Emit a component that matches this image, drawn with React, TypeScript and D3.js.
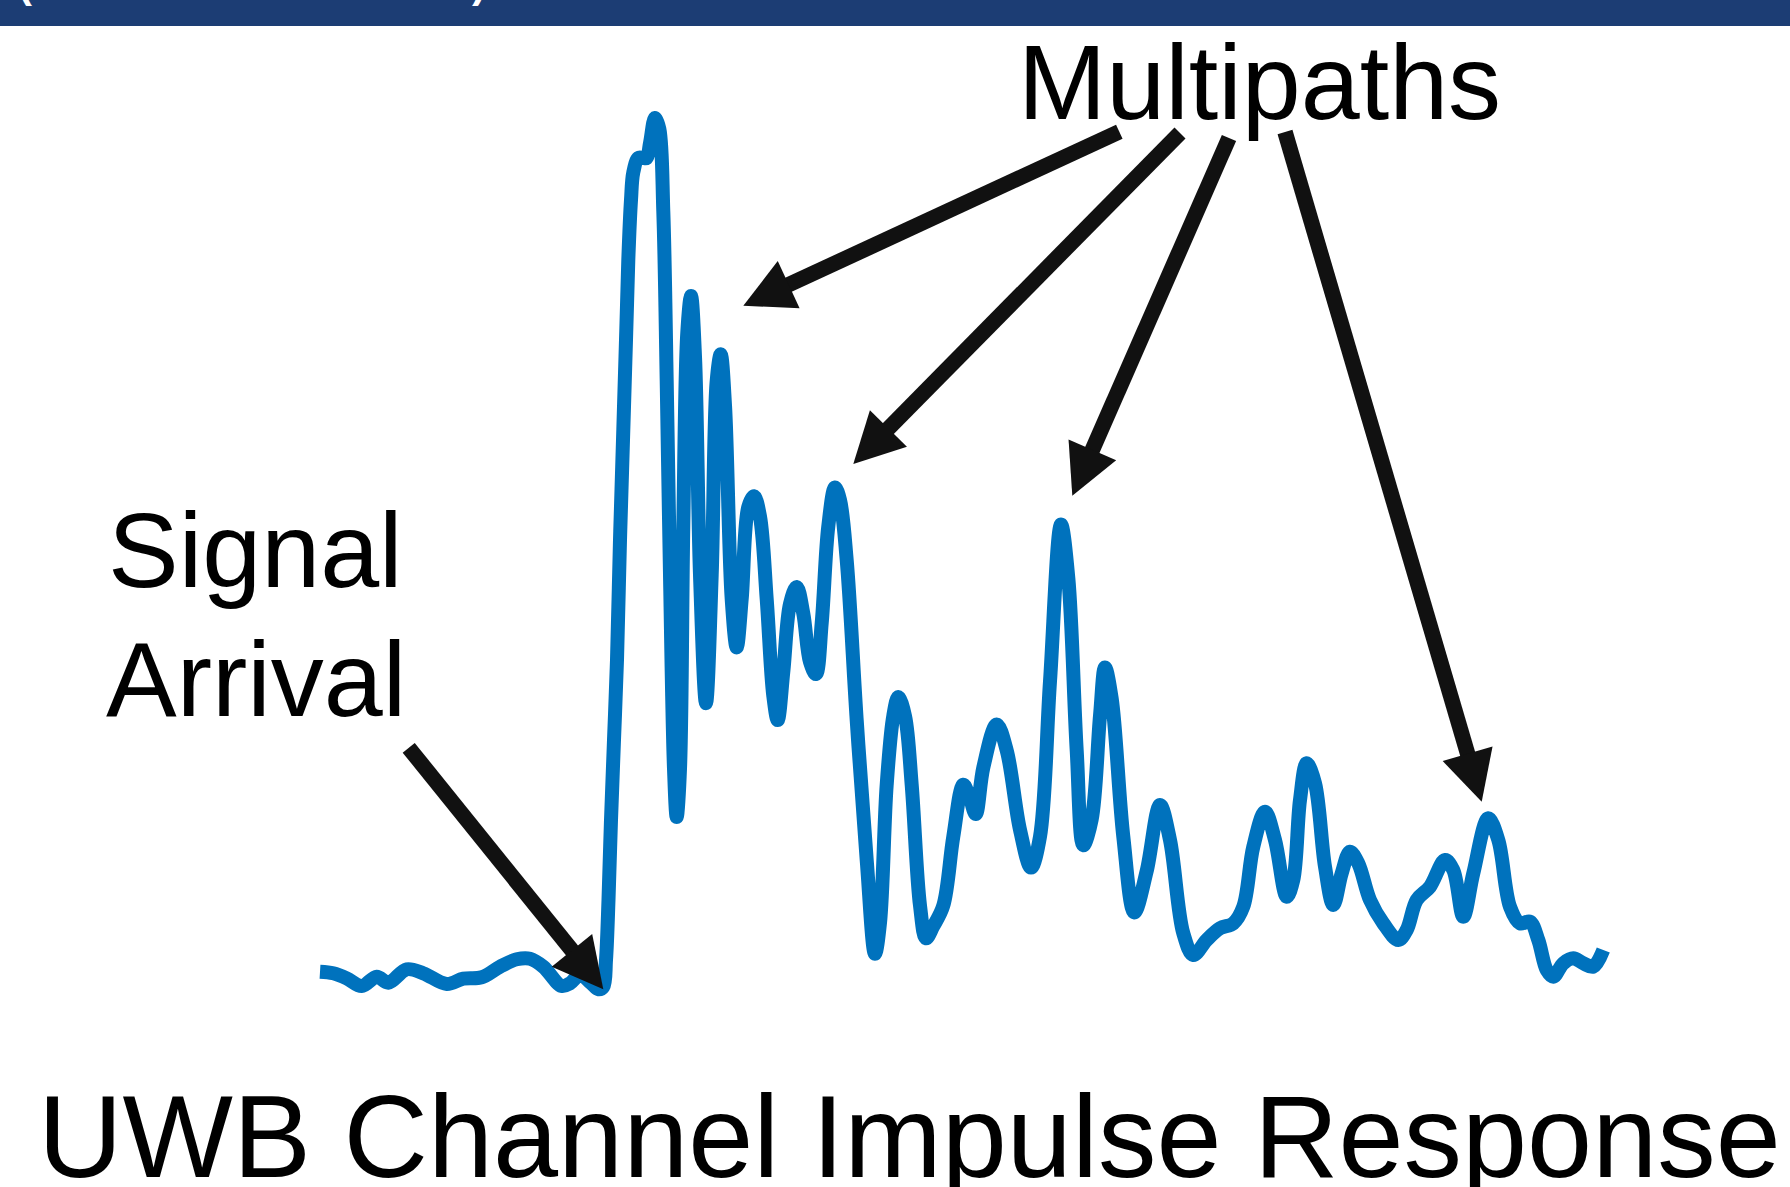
import * as d3 from "d3";
import { useEffect, useRef } from "react";

// time in ns, amplitude in arbitrary units
const noiseFloor: [number, number][] = [
  [0, 1.83], [1.33, 1.67], [2.67, 1.17], [4.17, 0.4], [5.67, 1.33], [6.83, 0.73],
  [8.67, 2.07], [10.33, 1.67], [12.67, 0.6], [14.33, 1.13], [16.17, 1.27], [18, 2.33],
  [19.67, 3.07], [21, 3.13], [22.33, 2.33], [24.17, 0.4], [25, 0.67], [26, 1.5],
  [27.1, 0.7], [27.83, 0.07],
];

const directPath: [number, number][] = [
  [28.33, 0.33], [28.6, 3.0], [28.85, 9.0], [29.1, 17.0], [29.4, 25.0], [29.7, 33.0],
  [30.0, 45.0], [30.33, 56.0], [30.6, 65.0], [30.83, 73.0], [31.1, 79.0], [31.33, 81.76],
  [31.83, 83.2], [32.33, 83.2], [32.67, 83.2], [33.0, 84.67], [33.5, 87.2], [33.93, 86.12],
  [34.33, 77.88], [34.67, 60.92], [35.0, 41.53], [35.4, 22.14], [35.67, 17.3],
];

const earlyEchoes: [number, number][] = [
  [36.0, 22.14], [36.33, 46.37], [36.73, 65.76], [37.1, 69.4], [37.5, 63.34], [38.0, 41.53],
  [38.6, 28.68], [39.17, 41.53], [39.67, 60.92], [40.07, 63.58], [40.5, 58.49], [41.17, 39.1],
  [41.67, 34.26], [42.17, 39.1], [42.83, 48.31], [43.4, 49.38], [44.0, 47.34], [44.67, 39.1],
  [45.33, 29.41], [45.77, 26.99], [46.33, 31.83], [47.0, 38.62], [47.67, 40.31], [48.33, 37.65],
  [49.0, 32.8], [49.6, 31.59], [50.17, 36.68], [50.83, 46.37], [51.5, 50.25], [52.0, 49.0],
  [52.67, 43.0], [53.67, 27.0], [54.67, 13.0], [55.5, 3.62],
];

const midEchoes: [number, number][] = [
  [56.0, 6.72], [56.67, 20.52], [57.33, 27.41], [57.83, 29.31], [58.5, 27.41], [59.17, 20.52],
  [60.0, 8.45], [60.6, 5.17], [61.33, 6.38], [62.33, 8.45], [63.33, 15.34], [64.33, 20.52],
  [65.0, 19.14], [65.57, 17.59], [66.33, 22.24], [67.67, 26.55], [68.67, 23.97], [70.0, 16.03],
  [71.1, 12.24], [72.0, 15.34], [73.0, 30.86], [74.1, 46.55], [74.83, 41.21], [75.67, 23.97],
  [76.33, 14.48], [77.17, 17.07], [78.0, 27.41], [78.5, 32.24], [79.17, 29.14], [80.33, 15.34],
  [81.43, 7.76], [82.67, 11.9], [84.0, 18.5], [85.0, 15.0], [86.33, 5.67], [87.33, 3.5],
];

const lateEchoes: [number, number][] = [
  [88.67, 5.0], [90.0, 6.17], [91.33, 6.67], [92.33, 8.33], [93.33, 14.33], [94.5, 17.83],
  [95.5, 15.0], [96.67, 9.33], [97.33, 11.0], [98.0, 19.0], [98.67, 22.67], [99.5, 20.67],
  [100.5, 12.33], [101.33, 8.5], [102.17, 11.67], [103.0, 13.83], [103.83, 12.67], [105.0, 9.0],
  [106.33, 6.67], [107.83, 5.0], [108.67, 6.0], [109.67, 9.0], [111.0, 10.33], [112.5, 13.0],
  [113.33, 12.0], [114.33, 7.33], [115.33, 11.67], [116.83, 17.17], [117.83, 15.0], [119.0, 8.33],
  [120.0, 6.67], [121.0, 6.83], [121.83, 5.0], [122.67, 2.0], [123.33, 1.33], [124.33, 2.67],
  [125.33, 3.17], [126.33, 2.67], [127.33, 2.33], [128.33, 4.0],
];

// annotation arrows: [tailT, tailAmp, tipT, tipAmp]
const arrivalArrow = [8.87, 24.22, 28.33, 0.07];
const multipathArrows = [
  [79.93, 85.83, 42.33, 68.43],
  [86.0, 85.7, 53.33, 52.6],
  [90.9, 85.2, 75.23, 49.43],
  [96.5, 85.8, 116.17, 18.83],
];

const labels = {
  multipaths: "Multipaths",
  signal: ["Signal", "Arrival"],
  title: "UWB Channel Impulse Response",
};

const W = 1790;
const H = 1187;
const FONT = "'Liberation Sans', Arial, Helvetica, sans-serif";

export default function App() {
  const ref = useRef<SVGSVGElement | null>(null);

  useEffect(() => {
    const svg = d3.select(ref.current);
    svg.selectAll("*").remove();

    const x = d3.scaleLinear().domain([0, 128.33]).range([320, 1603.3]);
    const y = d3.scaleLinear().domain([0, 87.2]).range([990, 118]);

    // slide header strip
    svg.append("rect").attr("x", 0).attr("y", 0).attr("width", W).attr("height", 26).attr("fill", "#1c3d74");
    svg.append("text").attr("x", 18).attr("y", -3).attr("font-family", FONT).attr("font-weight", "bold")
      .attr("font-size", 42).attr("fill", "#fff").text("(");
    svg.append("text").attr("x", 472).attr("y", -3).attr("font-family", FONT).attr("font-weight", "bold")
      .attr("font-size", 42).attr("fill", "#fff").text(")");

    const cir = [...noiseFloor, ...directPath, ...earlyEchoes, ...midEchoes, ...lateEchoes];
    const line = d3
      .line<[number, number]>()
      .x((d) => x(d[0]))
      .y((d) => y(d[1]))
      .curve(d3.curveCatmullRom.alpha(0.5));

    svg.append("path")
      .attr("d", line(cir))
      .attr("fill", "none")
      .attr("stroke", "#0072bd")
      .attr("stroke-width", 14)
      .attr("stroke-linejoin", "round")
      .attr("stroke-linecap", "butt");

    const drawArrow = (a: number[]) => {
      const x0 = x(a[0]), y0 = y(a[1]), x1 = x(a[2]), y1 = y(a[3]);
      const len = Math.hypot(x1 - x0, y1 - y0);
      const ux = (x1 - x0) / len, uy = (y1 - y0) / len;
      const headLen = 50, half = 26;
      const bx = x1 - ux * headLen, by = y1 - uy * headLen;
      svg.append("line")
        .attr("x1", x0).attr("y1", y0)
        .attr("x2", bx + ux * 2).attr("y2", by + uy * 2)
        .attr("stroke", "#111").attr("stroke-width", 15.5);
      svg.append("polygon")
        .attr("points", [
          [x1, y1],
          [bx - uy * half, by + ux * half],
          [bx + uy * half, by - ux * half],
        ].map((p) => p.join(",")).join(" "))
        .attr("fill", "#111");
    };
    drawArrow(arrivalArrow);
    multipathArrows.forEach(drawArrow);

    const txt = (s: string, tx: number, ty: number, size: number) =>
      svg.append("text").attr("x", tx).attr("y", ty).attr("font-family", FONT)
        .attr("font-size", size).attr("fill", "#000").text(s);

    txt(labels.multipaths, 1018, 119, 106);
    txt(labels.signal[0], 108, 587, 106);
    txt(labels.signal[1], 106, 716, 106);
    txt(labels.title, 38, 1177, 117);
  }, []);

  return (
    <svg
      ref={ref}
      width={W}
      height={H}
      style={{ position: "absolute", left: 0, top: 0, background: "#fff" }}
    />
  );
}
